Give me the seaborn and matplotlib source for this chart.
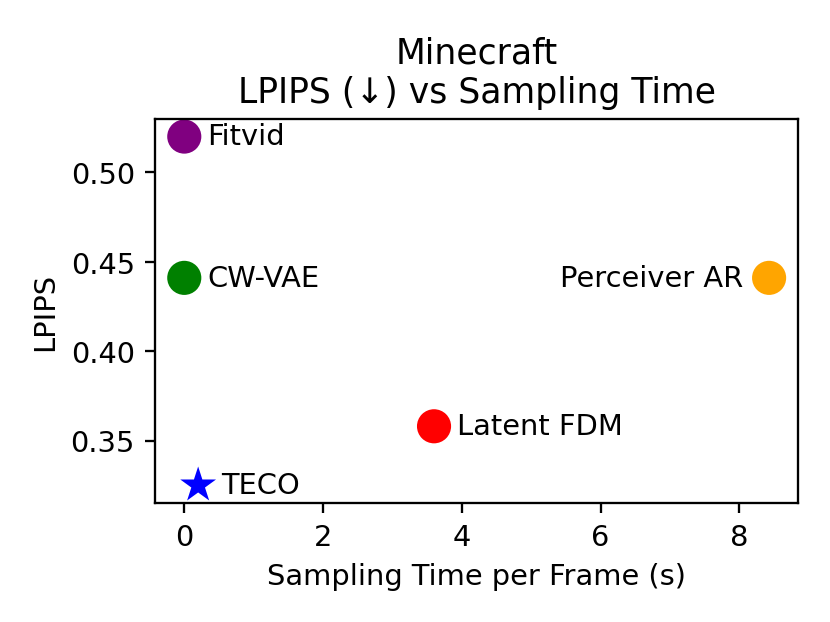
import matplotlib
matplotlib.use('Agg')
import matplotlib.pyplot as plt
import seaborn as sns
import pandas as pd

plt.rcParams['font.family'] = 'DejaVu Sans'

# Dados
metodos = ['Fitvid', 'CW-VAE', 'Perceiver AR', 'Latent FDM', 'TECO']
tempo = [0.0, 0.0, 8.43, 3.6, 0.2]
lpips = [0.520, 0.441, 0.441, 0.358, 0.325]
cores = ['purple', 'green', 'orange', 'red', 'blue']
marcadores = ['o', 'o', 'o', 'o', '*']
tamanhos = [140, 140, 140, 140, 170]

fig, ax = plt.subplots(figsize=(4, 3), dpi=207.6)

for nome, x, y, c, m, s in zip(metodos, tempo, lpips, cores, marcadores, tamanhos):
    sns.scatterplot(x=[x], y=[y], color=c, marker=m, s=s,
                    edgecolor='none', legend=False, ax=ax)

# Rótulos ao lado dos pontos
for nome, x, y in zip(metodos, tempo, lpips):
    if nome == 'Perceiver AR':
        ax.annotate(nome, (x, y), xytext=(-9, 0), textcoords='offset points',
                    ha='right', va='center')
    else:
        ax.annotate(nome, (x, y), xytext=(8, 0), textcoords='offset points',
                    ha='left', va='center')

ax.set_title('Minecraft\nLPIPS (↓) vs Sampling Time')
ax.set_xlabel('Sampling Time per Frame (s)')
ax.set_ylabel('LPIPS')

plt.subplots_adjust(left=0.1867, right=0.9614, top=0.8074, bottom=0.1915)
plt.savefig('out.png', dpi=207.6)
